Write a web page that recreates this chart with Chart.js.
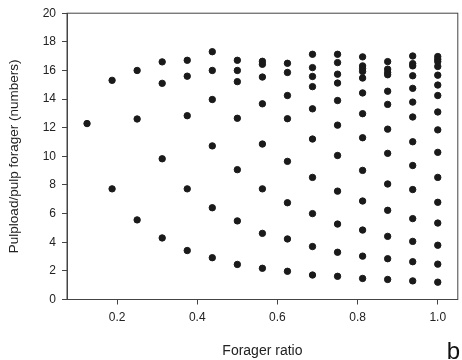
<!DOCTYPE html>
<html>
<head>
<meta charset="utf-8">
<script src="https://cdn.jsdelivr.net/npm/chart.js@4/dist/chart.umd.min.js"></script>
<style>
  html, body { margin: 0; padding: 0; background: #fff; }
  #wrap { width: 462px; height: 360px; }
</style>
</head>
<body>
<div id="wrap"><canvas id="scatter"></canvas></div>
<script>
// forager ratio columns and the pulpload values
const foragerRatio = [0.125, 0.1875, 0.25, 0.3125, 0.375, 0.4375, 0.5, 0.5625, 0.625, 0.6875, 0.75, 0.8125, 0.875, 0.9375, 1.0];
const pulpLoad = [
  [12.29],
  [15.31, 7.73],
  [16.0, 12.61, 5.56],
  [16.6, 15.1, 9.83, 4.3],
  [16.71, 15.6, 12.84, 7.73, 3.42],
  [17.31, 16.0, 13.97, 10.73, 6.41, 2.92],
  [16.71, 16.0, 15.22, 12.66, 9.07, 5.49, 2.45],
  [16.64, 16.43, 15.54, 13.67, 10.86, 7.73, 4.62, 2.18],
  [16.5, 15.86, 14.25, 12.63, 9.65, 6.76, 4.23, 1.97],
  [17.13, 16.2, 15.58, 14.87, 13.32, 11.21, 8.53, 6.0, 3.7, 1.71],
  [17.13, 16.55, 15.74, 15.12, 13.9, 12.18, 10.06, 7.57, 5.27, 3.3, 1.62],
  [16.95, 16.32, 16.13, 15.93, 15.47, 14.43, 12.98, 11.3, 9.02, 6.88, 4.85, 3.03, 1.47],
  [16.62, 16.09, 15.86, 15.7, 14.55, 13.63, 11.9, 10.21, 8.07, 6.23, 4.41, 2.85, 1.4],
  [17.01, 16.48, 16.32, 15.63, 14.75, 13.79, 12.75, 11.02, 9.36, 7.68, 5.65, 4.06, 2.64, 1.3],
  [16.97, 16.78, 16.62, 16.28, 15.67, 14.98, 14.25, 13.1, 11.85, 10.28, 8.53, 6.79, 5.34, 3.79, 2.47, 1.21]
];
const xTicks = [0.2, 0.4, 0.6, 0.8, 1.0];
const yTicks = [0, 2, 4, 6, 8, 10, 12, 14, 16, 18, 20];

const points = [];
foragerRatio.forEach((x, i) => {
  pulpLoad[i].forEach(y => points.push({ x: x, y: y }));
});

const axisColor = '#444';
const font = { family: 'Liberation Sans, Arial, sans-serif', size: 12 };

// box around the plot plus the panel letter
const frame = {
  id: 'frame',
  afterDraw(chart) {
    const { ctx, chartArea: a } = chart;
    ctx.save();
    ctx.strokeStyle = axisColor;
    ctx.lineWidth = 1;
    ctx.strokeRect(a.left, a.top, a.right - a.left, a.bottom - a.top);
    ctx.fillStyle = '#111';
    ctx.font = '24px Liberation Sans, Arial, sans-serif';
    ctx.textAlign = 'right';
    ctx.textBaseline = 'alphabetic';
    ctx.fillText('b', 460, 359);
    ctx.restore();
  }
};

new Chart(document.getElementById('scatter'), {
  type: 'scatter',
  data: {
    datasets: [{
      data: points,
      backgroundColor: '#1a1a1a',
      borderColor: '#1a1a1a',
      pointRadius: 3.2,
      pointHoverRadius: 3.2
    }]
  },
  options: {
    responsive: true,
    maintainAspectRatio: false,
    animation: false,
    layout: { padding: { top: 10, right: 3, left: 0, bottom: 0 } },
    plugins: { legend: { display: false }, tooltip: { enabled: false } },
    scales: {
      x: {
        type: 'linear',
        min: 0.075,
        max: 1.05,
        afterBuildTicks: s => { s.ticks = xTicks.map(v => ({ value: v })); },
        afterFit: s => { s.height = 60.5; },
        grid: { drawOnChartArea: false, drawTicks: true, tickLength: 5, color: axisColor },
        border: { color: axisColor },
        ticks: { font: font, color: '#222', padding: 6, maxRotation: 0, callback: v => v.toFixed(1) },
        title: { display: true, text: 'Forager ratio', font: { family: font.family, size: 14 }, color: '#222', padding: { top: 0, bottom: 0 } }
      },
      y: {
        min: 0,
        max: 20,
        afterBuildTicks: s => { s.ticks = yTicks.map(v => ({ value: v })); },
        afterFit: s => { s.width = 67; },
        grid: { drawOnChartArea: false, drawTicks: true, tickLength: 5, color: axisColor },
        border: { color: axisColor },
        ticks: { font: font, color: '#222', padding: 6 },
        title: { display: true, text: 'Pulpload/pulp forager (numbers)', font: { family: font.family, size: 13.5 }, color: '#222', padding: { top: 6, bottom: 0 } }
      }
    }
  },
  plugins: [frame]
});
</script>
</body>
</html>
